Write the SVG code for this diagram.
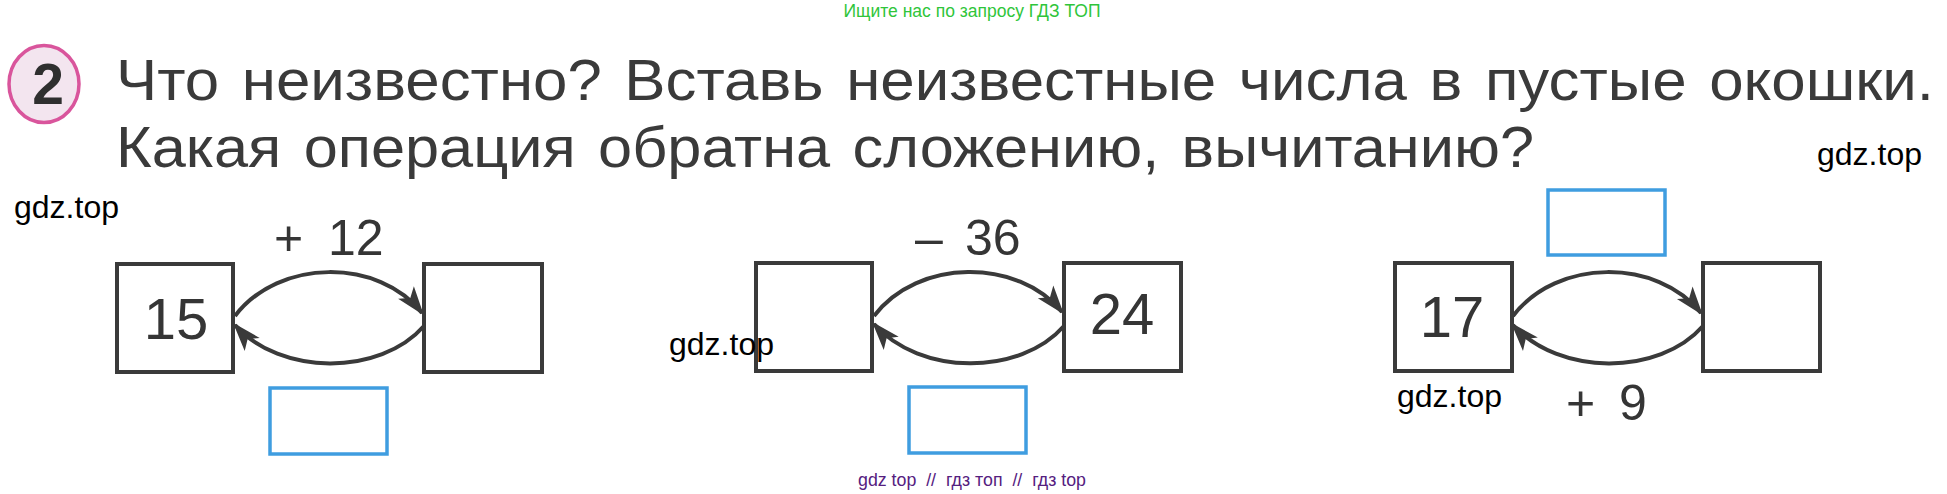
<svg xmlns="http://www.w3.org/2000/svg" width="1947" height="494" viewBox="0 0 1947 494">
  <defs>
    <style>
      .box { fill: none; stroke: #3a3a3a; stroke-width: 4; }
      .blue { fill: none; stroke: #3f9de0; stroke-width: 3.5; }
      .arc { fill: none; stroke: #3a3a3a; stroke-width: 4; marker-end: url(#ah); }
      .t { font-family: "Liberation Sans", Arial, sans-serif; fill: #353535; }
      .num { font-size: 58px; text-anchor: middle; }
      .op { font-size: 50px; }
      .title { font-size: 57px; word-spacing: 5px; fill: #3a3a3a; }
      .wm { font-family: "Liberation Sans", Arial, sans-serif; font-size: 32px; fill: #000; }
    </style>
    <marker id="ah" markerUnits="userSpaceOnUse" markerWidth="40" markerHeight="30" viewBox="-30 -15 40 30" refX="0" refY="0" orient="auto">
      <path d="M3,0 L-26,-10 L-19,0 L-26,10 Z" fill="#3a3a3a"/>
    </marker>
  </defs>
  <rect width="1947" height="494" fill="#ffffff"/>

  <g id="header">
    <text x="972" y="17" font-family="'Liberation Sans', Arial, sans-serif" font-size="17.5" fill="#2fc53a" text-anchor="middle">Ищите нас по запросу ГДЗ ТОП</text>
    <g id="task-number">
      <ellipse cx="44" cy="84" rx="35" ry="38.5" fill="#f3e5ef" stroke="#d9559c" stroke-width="3.5"/>
      <text x="48" y="104" font-family="'Liberation Sans', Arial, sans-serif" font-size="57" font-weight="bold" fill="#2f2f2f" text-anchor="middle">2</text>
    </g>
    <text class="t title" x="116" y="100" textLength="1818" lengthAdjust="spacingAndGlyphs">Что неизвестно? Вставь неизвестные числа в пустые окошки.</text>
    <text class="t title" x="116" y="167" textLength="1418" lengthAdjust="spacingAndGlyphs">Какая операция обратна сложению, вычитанию?</text>
  </g>

  <g id="connectors">
    <path class="arc" d="M235,316 C279,258 379,258 422,313"/>
    <path class="arc" d="M424,326 C380,376 280,376 235,325"/>
    <path class="arc" d="M874,316 C918,258 1018,258 1062,312"/>
    <path class="arc" d="M1064,326 C1020,376 920,376 874,324"/>
    <path class="arc" d="M1513,316 C1557,258 1657,258 1701,313"/>
    <path class="arc" d="M1703,326 C1659,376 1559,376 1513,325"/>
  </g>

  <g id="node-15">
    <rect class="box" x="117" y="264" width="116" height="108"/>
    <text class="t num" x="176" y="339">15</text>
  </g>
  <g id="node-empty-1">
    <rect class="box" x="424" y="264" width="118" height="108"/>
  </g>
  <g id="label-plus12">
    <text class="t op"><tspan x="274" y="255">+</tspan><tspan x="328" y="255">12</tspan></text>
  </g>
  <g id="answer-1">
    <rect class="blue" x="270" y="388" width="117" height="66"/>
  </g>

  <g id="node-empty-2">
    <rect class="box" x="756" y="263" width="116" height="108"/>
  </g>
  <g id="node-24">
    <rect class="box" x="1064" y="263" width="117" height="108"/>
    <text class="t num" x="1122" y="334">24</text>
  </g>
  <g id="label-minus36">
    <text class="t op"><tspan x="915" y="255">–</tspan><tspan x="965" y="255">36</tspan></text>
  </g>
  <g id="answer-2">
    <rect class="blue" x="909" y="387" width="117" height="66"/>
  </g>

  <g id="node-17">
    <rect class="box" x="1395" y="263" width="117" height="108"/>
    <text class="t num" x="1452" y="337">17</text>
  </g>
  <g id="node-empty-3">
    <rect class="box" x="1703" y="263" width="117" height="108"/>
  </g>
  <g id="label-plus9">
    <text class="t op"><tspan x="1566" y="420">+</tspan><tspan x="1619" y="420">9</tspan></text>
  </g>
  <g id="answer-3">
    <rect class="blue" x="1548" y="190" width="117" height="65"/>
  </g>

  <g id="watermarks">
    <text class="wm" x="14" y="218">gdz.top</text>
    <text class="wm" x="669" y="355">gdz.top</text>
    <text class="wm" x="1397" y="407">gdz.top</text>
    <text class="wm" x="1817" y="165">gdz.top</text>
    <text x="972" y="486" font-family="'Liberation Sans', Arial, sans-serif" font-size="18" fill="#55207f" text-anchor="middle" textLength="228" lengthAdjust="spacingAndGlyphs" xml:space="preserve">gdz top  //  гдз топ  //  гдз top</text>
  </g>
</svg>
